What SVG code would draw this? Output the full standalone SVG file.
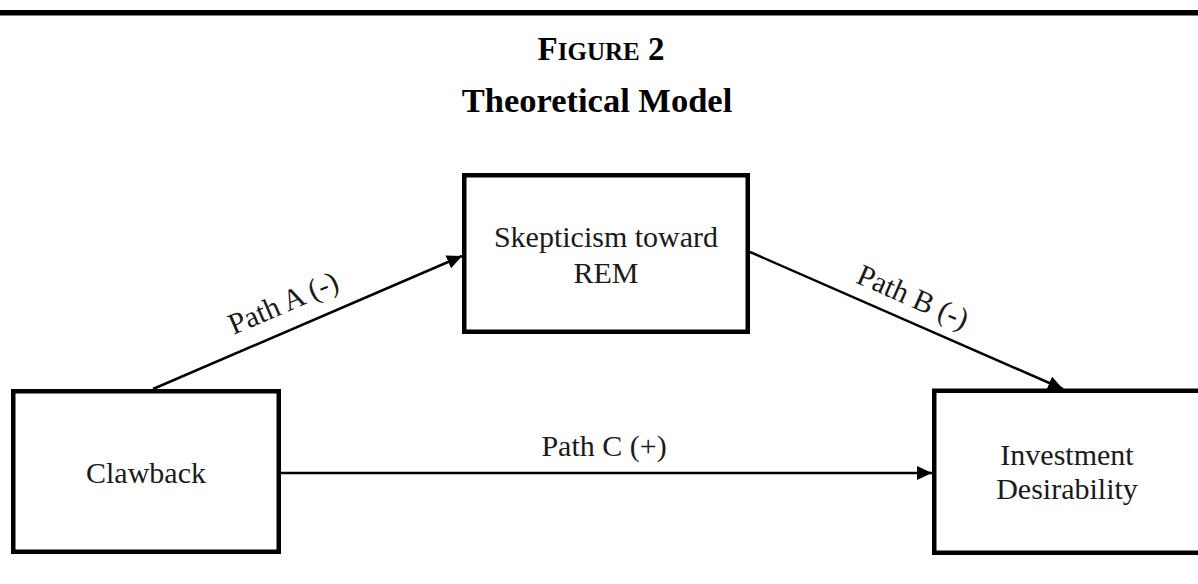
<svg xmlns="http://www.w3.org/2000/svg" width="1198" height="584" viewBox="0 0 1198 584">
  <style>
    .box { fill: #ffffff; stroke: #000000; stroke-width: 4.5; }
    .label { font-family: "Liberation Serif", "Times New Roman", serif; font-size: 30px; fill: #1a1a1a; text-anchor: middle; }
    .title { font-family: "Liberation Serif", "Times New Roman", serif; font-weight: bold; fill: #000000; text-anchor: middle; }
    .link { fill: none; stroke: #000000; stroke-width: 2.5; }
  </style>
  <defs>
    <marker id="arrow" markerUnits="userSpaceOnUse" markerWidth="16" markerHeight="14" refX="15" refY="7" orient="auto">
      <path d="M0,0 L15,7 L0,14 Z" fill="#000000"/>
    </marker>
  </defs>

  <rect width="1198" height="584" fill="#ffffff"/>

  <!-- heading rule -->
  <rect x="0" y="10" width="1198" height="5.5" fill="#000000"/>

  <!-- heading -->
  <text class="title" x="601" y="60" font-size="33">F<tspan font-size="25">IGURE</tspan> 2</text>
  <text class="title" x="597" y="112" font-size="34.5">Theoretical Model</text>

  <!-- connectors -->
  <g id="connectors">
    <line class="link" x1="153" y1="389" x2="462" y2="256" marker-end="url(#arrow)"/>
    <line class="link" x1="750" y1="252" x2="1063" y2="389" marker-end="url(#arrow)"/>
    <line class="link" x1="281" y1="473" x2="932" y2="473" marker-end="url(#arrow)"/>
    <text class="label" transform="translate(287,312) rotate(-23.3)" x="0" y="0">Path A (-)</text>
    <text class="label" transform="translate(909,306) rotate(23.8)" x="0" y="0">Path B (-)</text>
    <text class="label" x="604" y="456">Path C (+)</text>
  </g>

  <!-- nodes -->
  <g id="node-clawback">
    <rect class="box" x="13.25" y="391.25" width="265.5" height="160.5"/>
    <text class="label" x="146" y="483">Clawback</text>
  </g>

  <g id="node-skepticism">
    <rect class="box" x="464.25" y="175.25" width="283.5" height="156.5"/>
    <text class="label" x="606" y="247">Skepticism toward</text>
    <text class="label" x="606" y="283">REM</text>
  </g>

  <g id="node-investment">
    <rect class="box" x="934.25" y="390.75" width="280" height="162"/>
    <text class="label" x="1067" y="465">Investment</text>
    <text class="label" x="1067" y="499">Desirability</text>
  </g>
</svg>
